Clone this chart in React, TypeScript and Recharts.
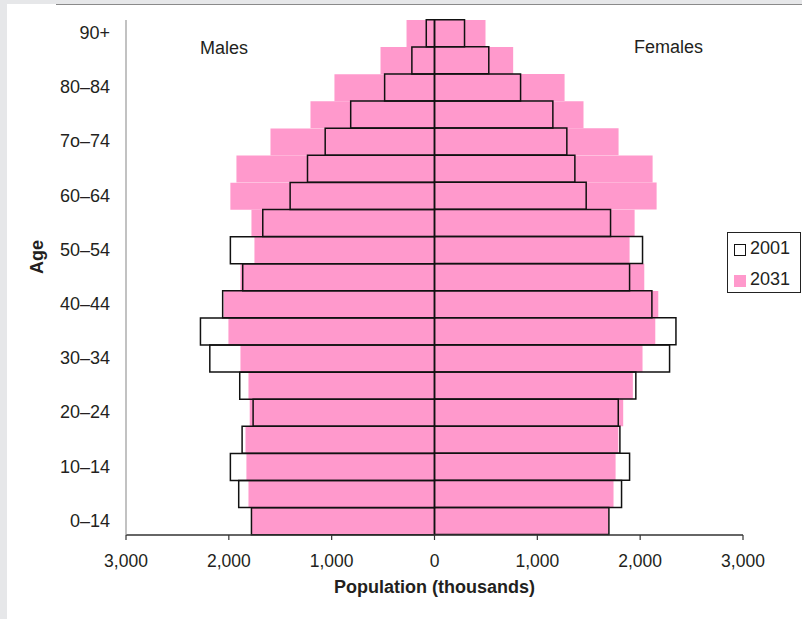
import React from 'react';
import { BarChart, Bar, XAxis, YAxis, Label } from 'recharts';

const ageGroups = ['0–4', '5–9', '10–14', '15–19', '20–24', '25–29', '30–34', '35–39', '40–44', '45–49', '50–54', '55–59', '60–64', '65–69', '70–74', '75–79', '80–84', '85–89', '90+'];
const ageTickLabels = ['0–14', '', '10–14', '', '20–24', '', '30–34', '', '40–44', '', '50–54', '', '60–64', '', '7o–74', '', '80–84', '', '90+'];

const males2001 = [1780, 1904, 1985, 1871, 1764, 1894, 2185, 2276, 2060, 1865, 1985, 1670, 1404, 1235, 1063, 815, 485, 220, 80];
const females2001 = [1696, 1819, 1897, 1803, 1787, 1958, 2286, 2348, 2114, 1897, 2023, 1712, 1475, 1365, 1287, 1151, 837, 528, 292];
const males2031 = [1775, 1809, 1829, 1838, 1797, 1809, 1887, 2004, 2050, 1887, 1751, 1780, 1985, 1926, 1595, 1206, 973, 525, 272];
const females2031 = [1690, 1741, 1761, 1787, 1835, 1929, 2023, 2147, 2176, 2040, 1897, 1946, 2160, 2121, 1790, 1449, 1265, 765, 496];

const xTicks = [-3000, -2000, -1000, 0, 1000, 2000, 3000];
const legendItems = [
  { name: '2001', fill: '#ffffff', stroke: '#111111' },
  { name: '2031', fill: '#ff99cc', stroke: 'none' },
];

const PINK = '#ff99cc';
const TEXT = '#231f20';
const FONT = '"Liberation Sans", Arial, Helvetica, sans-serif';

const data = ageGroups.map((age, i) => ({
  age,
  m2031: -males2031[i],
  f2031: females2031[i],
  m2001: -males2001[i],
  f2001: females2001[i],
}));

const fmt = (v: number) => Math.abs(v).toLocaleString('en-US');

export default function App() {
  return (
    <div style={{ position: 'absolute', left: 0, top: 0, width: 802, height: 619, background: '#e6e7e9', fontFamily: FONT }}>
      <div style={{ position: 'absolute', left: 7, top: 4, width: 795, height: 615, background: '#ffffff' }} />
      <div style={{ position: 'absolute', left: 56, top: 4, width: 746, height: 1, background: '#8a8a8a' }} />
      <div style={{ position: 'absolute', left: 0, top: 0 }}>
        <BarChart
          width={802}
          height={619}
          data={data}
          layout="vertical"
          barGap="-100%"
          barCategoryGap={0}
          margin={{ top: 20, right: 59, bottom: 24, left: 0 }}
        >
          <XAxis
            type="number"
            domain={[-3000, 3000]}
            ticks={xTicks}
            tickFormatter={fmt}
            allowDataOverflow
            axisLine={{ stroke: '#333', strokeWidth: 1.5 }}
            tickLine={{ stroke: '#333', strokeWidth: 1.2 }}
            tickSize={5}
            tickMargin={15}
            height={60}
            tick={{ fill: TEXT, fontSize: 17.5, fontFamily: FONT }}
          >
            <Label value="Population (thousands)" position="insideBottom" offset={2} fill={TEXT} fontSize={18} fontWeight="bold" fontFamily={FONT} />
          </XAxis>
          <XAxis
            xAxisId="top"
            orientation="top"
            type="number"
            domain={[-3000, 3000]}
            allowDataOverflow
            tick={false}
            tickLine={false}
            height={0}
            axisLine={{ stroke: '#999', strokeWidth: 1 }}
          />
          <YAxis
            type="category"
            dataKey="age"
            reversed
            interval={0}
            width={126}
            tickFormatter={(v: string) => ageTickLabels[ageGroups.indexOf(v)]}
            tickLine={false}
            tickSize={0}
            tickMargin={16}
            axisLine={{ stroke: '#999', strokeWidth: 1.2 }}
            tick={{ fill: TEXT, fontSize: 18, fontFamily: FONT, dy: -1 }}
          >
            <Label
              content={() => (
                <text x={37} y={257} transform="rotate(-90 37 257)" textAnchor="middle" dominantBaseline="central" fill={TEXT} fontSize={18} fontWeight="bold" fontFamily={FONT}>
                  Age
                </text>
              )}
            />
          </YAxis>
          <YAxis
            yAxisId="right"
            orientation="right"
            type="category"
            dataKey="age"
            reversed
            width={0}
            tick={false}
            tickLine={false}
            axisLine={{ stroke: '#999', strokeWidth: 1.2 }}
          />
          <Bar dataKey="m2031" fill={PINK} isAnimationActive={false} />
          <Bar dataKey="f2031" fill={PINK} isAnimationActive={false} />
          <Bar dataKey="m2001" fill="none" stroke="#111" strokeWidth={1.5} isAnimationActive={false} />
          <Bar dataKey="f2001" fill="none" stroke="#111" strokeWidth={1.5} isAnimationActive={false} />
        </BarChart>
      </div>
      <div style={{ position: 'absolute', left: 200, top: 38, fontSize: 18, color: TEXT }}>Males</div>
      <div style={{ position: 'absolute', left: 634, top: 37, fontSize: 18, color: TEXT }}>Females</div>
      <div
        style={{
          position: 'absolute',
          left: 727,
          top: 232,
          width: 74,
          height: 61,
          background: '#fff',
          border: '1px solid #222',
          boxSizing: 'border-box',
        }}
      >
        {legendItems.map((it, i) => (
          <div key={it.name} style={{ position: 'absolute', left: 6, top: 4 + i * 31, height: 22, display: 'flex', alignItems: 'center', fontSize: 18, color: TEXT }}>
            <span
              style={{
                display: 'inline-block',
                width: 12,
                height: 12,
                background: it.fill,
                border: it.stroke === 'none' ? 'none' : `1.5px solid ${it.stroke}`,
                boxSizing: 'border-box',
                marginRight: 4,
                marginTop: 3,
              }}
            />
            <span>{it.name}</span>
          </div>
        ))}
      </div>
    </div>
  );
}
